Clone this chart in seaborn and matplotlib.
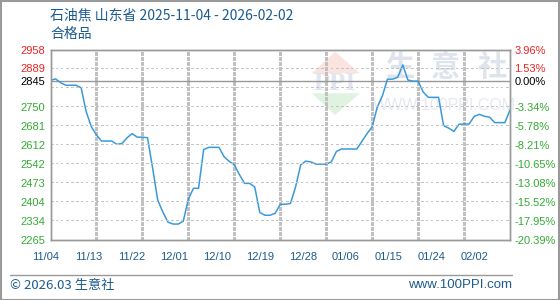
import matplotlib
matplotlib.use("Agg")
import matplotlib.pyplot as plt
import matplotlib.patches as mpatches
import matplotlib.dates as mdates
from matplotlib.collections import LineCollection
import seaborn as sns
import pandas as pd
import numpy as np

# ---- data ----
start_date = "2025-11-04"
prices = [2846, 2851, 2837, 2828, 2828, 2828, 2819, 2731, 2677, 2647,
          2625, 2625, 2625, 2613, 2616, 2637, 2652, 2639, 2639, 2637,
          2527, 2410, 2367, 2330, 2323, 2323, 2333, 2414, 2453, 2453,
          2594, 2602, 2602, 2602, 2568, 2551, 2539, 2503, 2471, 2471,
          2458, 2365, 2355, 2355, 2362, 2395, 2395, 2398, 2458, 2538,
          2552, 2549, 2541, 2541, 2541, 2549, 2587, 2596, 2596, 2596,
          2596, 2624, 2652, 2677, 2748, 2789, 2850, 2850, 2857, 2902,
          2847, 2843, 2843, 2803, 2784, 2784, 2784, 2681, 2672, 2660,
          2686, 2687, 2687, 2715, 2722, 2715, 2712, 2692, 2692, 2692,
          2738]
base_price = 2845
y_ticks = [2958, 2889, 2845, 2750, 2681, 2612, 2542, 2473, 2404, 2334, 2265]
y_labels = ["2958", "2889", "2845", "2750", "2681", "2612", "2542", "2473", "2404", "2334", "2265"]
pct_labels = ["3.96%", "1.53%", "0.00%", "-3.34%", "-5.78%", "-8.21%", "-10.65%",
              "-13.08%", "-15.52%", "-17.95%", "-20.39%"]
label_colors = ["#ee2222", "#ee2222", "#000000"] + ["#33aa33"] * 8
x_labels = ["11/04", "11/13", "11/22", "12/01", "12/10", "12/19", "12/28",
            "01/06", "01/15", "01/24", "02/02"]
title = "石油焦 山东省 2025-11-04 - 2026-02-02"
subtitle = "合格品"

dates = pd.date_range(start_date, periods=len(prices), freq="D")
df = pd.DataFrame({"date": dates, "price": prices})

sns.set_theme(style="white")
plt.rcParams["font.family"] = ["Noto Sans CJK SC", "DejaVu Sans"]

fig = plt.figure(figsize=(5.6, 3.0), dpi=100)
W, H = 560, 300
x0, x1, ytop, ybot = 50.5, 510, 49.5, 240
ax = fig.add_axes([x0 / W, 1 - ybot / H, (x1 - x0) / W, (ybot - ytop) / H])

blue_txt = "#1d5b8c"

def axf(px, py):
    return [(px - x0) / (x1 - x0), 1 - (py - ytop) / (ybot - ytop)]

# watermark
ax.add_patch(mpatches.Polygon([axf(311.7, 73.3), axf(360, 73.3), axf(335, 51.7)],
                              closed=True, transform=ax.transAxes, color="#fbe3df", zorder=0, lw=0))
ax.add_patch(mpatches.Polygon([axf(311.7, 93.3), axf(360, 93.3), axf(335, 115)],
                              closed=True, transform=ax.transAxes, color="#e0f2e0", zorder=0, lw=0))
px_, py_ = axf(335, 83.5)
ax.text(px_, py_, "PPI", transform=ax.transAxes, ha="center", va="center", fontsize=19,
        color="#e0e5ef", family="Liberation Serif", fontweight="bold", zorder=0)
for cx, ch in zip([400, 445, 492], ["生", "意", "社"]):
    px_, py_ = axf(cx, 67)
    ax.text(px_, py_, ch, transform=ax.transAxes, ha="center", va="center", fontsize=21,
            color="#dfe3ec", fontweight="bold", zorder=0)
px_, py_ = axf(444, 105)
ax.text(px_, py_, "WWW.100PPI.COM", transform=ax.transAxes, ha="center", va="center",
        fontsize=11.5, color="#e6e9f0", family="Liberation Sans", zorder=0)

sns.lineplot(data=df, x="date", y="price", ax=ax, color="#3a9ad9", linewidth=1.1, zorder=3)

ymin, ymax = y_ticks[-1], y_ticks[0]
xmin, xmax = mdates.date2num(dates[0]), mdates.date2num(dates[-1])
ax.set_ylim(ymin, ymax)
ax.set_xlim(xmin, xmax)

# dashed grid built from short segments (3 px on, 2 px off)
step = (ymax - ymin) / 10
gy = [ymax - k * step for k in range(1, 10)]
gx = [mdates.date2num(d) for d in dates[::9][1:-1]]
pw, ph = x1 - x0, ybot - ytop
vsegs = []
vy = np.arange(0, ph, 5.0)
for x in gx:
    fx = (x - xmin) / (xmax - xmin)
    for s in vy:
        vsegs.append([(fx, s / ph), (fx, min(s + 3, ph) / ph)])
lc = LineCollection(vsegs, colors="#c0c0c0", linewidths=1.0, transform=ax.transAxes,
                    zorder=1.5, antialiased=False)
lc.set_snap(True)
ax.add_collection(lc)
ax.plot([xmin, xmax], [base_price, base_price], color="#999999", lw=1.0, zorder=2)

ax.set_xlabel("")
ax.set_ylabel("")
ax.set_xticks([])
ax.set_yticks(y_ticks)
ax.set_yticklabels(y_labels, family="Liberation Sans", fontsize=8)
for t, c in zip(ax.get_yticklabels(), label_colors):
    t.set_color(c)
ax.tick_params(axis="y", length=0, pad=22)
for t in ax.get_yticklabels():
    t.set_horizontalalignment("left")

ax2 = ax.twinx()
ax2.patch.set_visible(False)
ax2.set_ylim(ymin, ymax)
ax2.set_yticks(y_ticks)
ax2.set_yticklabels(pct_labels, family="Liberation Sans", fontsize=8)
for t, c in zip(ax2.get_yticklabels(), label_colors):
    t.set_color(c)
ax2.tick_params(axis="y", length=0, pad=3)

# horizontal dashed grid, drawn as rectangles (1 px tall) on the twin axes
hx = np.arange(0, pw, 5.0)
for y in gy:
    for s in hx:
        ax2.add_patch(mpatches.Rectangle((xmin + (xmax - xmin) * s / pw, y - 0.5 * (ymax - ymin) / ph),
                                         (xmax - xmin) * min(3, pw - s) / pw, (ymax - ymin) / ph,
                                         transform=ax.transData, facecolor="#c4c4c4",
                                         edgecolor="none", lw=0, zorder=0.5))

for a in (ax, ax2):
    for s in a.spines.values():
        s.set_color("#999999")
        s.set_linewidth(1.0)

# x labels
for k, lab in enumerate(x_labels):
    px = 46 + 42.85 * k
    fig.text(px / W, 1 - 257 / H, lab, ha="center", va="center", fontsize=8,
             family="Liberation Sans", color=blue_txt)

# titles
fig.text(50 / W, 1 - 15 / H, title, ha="left", va="center", fontsize=10, color=blue_txt)
fig.text(50 / W, 1 - 34 / H, subtitle, ha="left", va="center", fontsize=10, color=blue_txt)

# footer
fig.add_artist(plt.Line2D([10 / W, 512 / W], [1 - 275 / H, 1 - 275 / H], color="#999999", lw=1))
fig.text(10 / W, 1 - 285.5 / H, "© 2026.03 生意社", ha="left", va="center", fontsize=9.5, color=blue_txt)
fig.text(512 / W, 1 - 285.5 / H, "www.100PPI.com", ha="right", va="center", fontsize=9.5,
         color=blue_txt, family="Liberation Sans")

# outer border
fig.add_artist(mpatches.Rectangle((0.5 / W, 0.5 / H), 1 - 1.5 / W, 1 - 1.5 / H, fill=False,
                                  edgecolor="#999999", lw=1.5, transform=fig.transFigure))

fig.savefig("out.png", dpi=100)
